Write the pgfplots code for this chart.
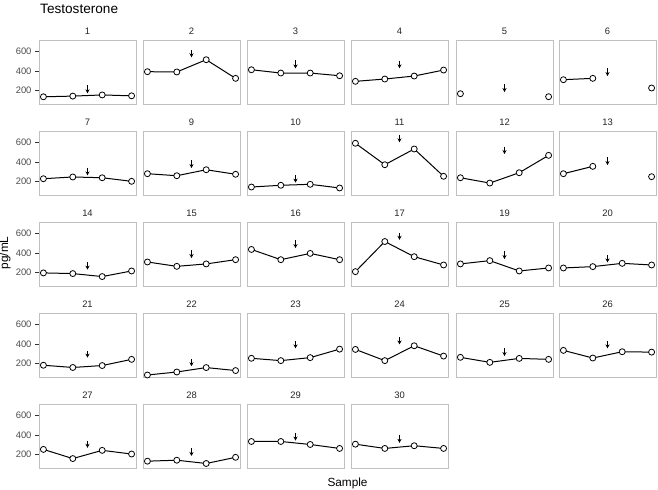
\documentclass[border=0pt]{standalone}
\usepackage{pgfplots}
\pgfplotsset{compat=1.18}
\usetikzlibrary{arrows.meta}
\usepackage{fontspec}
\setmainfont{Liberation Sans}
\definecolor{bordergray}{RGB}{192,192,192}
\definecolor{ticklab}{RGB}{77,77,77}
\definecolor{tickcol}{RGB}{51,51,51}
\pgfplotsset{
 every axis title/.style={at={(0.5,1)},anchor=base,yshift=6.6bp,inner sep=0pt,
    font=\fontsize{9.4bp}{11bp}\selectfont,text=black!85},
 panel/.style={width=97bp,height=64bp,scale only axis,
  xmin=0.85,xmax=4.15,ymin=51,ymax=714,
  axis line style={bordergray,line width=1bp},
  xtick=\empty, ytick=\empty, anchor=north west, clip=false,
  unbounded coords=jump},
 leftpanel/.style={ytick={200,400,600}, yticklabels={200,400,600},
  ytick pos=left, tick align=outside, major tick length=4bp,
  ytick style={tickcol,line width=0.8bp},
  yticklabel style={font=\fontsize{9.4bp}{11bp}\selectfont, text=ticklab},
  /pgf/number format/assume math mode=true},
}
\newcommand{\panel}[7][]{%
 \begin{axis}[panel,at={(#2bp,-#3bp)},title={#4},#1]
 \addplot[black,line width=1bp,mark=*,mark size=3.0bp,
   mark options={fill=white,draw=black,line width=0.8bp}] coordinates {#5};
 \addplot[black,line width=1bp,-{Stealth[length=4bp,width=4.2bp]}] coordinates {(2.5,#6) (2.5,#7)};
 \end{axis}}
\begin{document}
\begin{tikzpicture}
\path[use as bounding box] (0,0) rectangle (658bp,-490bp);
\node[anchor=base west, inner sep=0pt, font=\fontsize{13.6bp}{16bp}\selectfont] at (40bp,-13bp) {Testosterone};
\node[anchor=base, inner sep=0pt, font=\fontsize{11.8bp}{14bp}\selectfont] at (347.5bp,-486bp) {Sample};
\node[anchor=base, rotate=90, inner sep=0pt, font=\fontsize{11.8bp}{14bp}\selectfont] at (8bp,-253bp) {pg/mL};
% row 1
\panel[leftpanel]{39}{40.7}{1}{(1,133)(2,140)(3,152)(4,143)}{255}{169}
\panel{143}{40.7}{2}{(1,393)(2,390)(3,517)(4,324)}{617}{542}
\panel{247}{40.7}{3}{(1,413)(2,379)(3,379)(4,351)}{513}{427}
\panel{351}{40.7}{4}{(1,293)(2,317)(3,348)(4,410)}{507}{428}
\panel{456}{40.7}{5}{(1,165)(2,nan)(3,nan)(4,134)}{265}{182}
\panel{559}{40.7}{6}{(1,310)(2,324)(3,nan)(4,224)}{428}{348}
% row 2
\panel[leftpanel]{39}{131.7}{7}{(1,227)(2,245)(3,237)(4,200)}{341}{262}
\panel{143}{131.7}{9}{(1,279)(2,258)(3,320)(4,273)}{421}{338}
\panel{247}{131.7}{10}{(1,141)(2,159)(3,169)(4,131)}{265}{186}
\panel{351}{131.7}{11}{(1,594)(2,372)(3,535)(4,252)}{680}{604}
\panel{456}{131.7}{12}{(1,237)(2,182)(3,289)(4,469)}{558}{483}
\panel{559}{131.7}{13}{(1,279)(2,355)(3,nan)(4,248)}{449}{369}
% row 3
\panel[leftpanel]{39}{222.7}{14}{(1,194)(2,187)(3,156)(4,214)}{303}{228}
\panel{143}{222.7}{15}{(1,307)(2,262)(3,287)(4,331)}{427}{348}
\panel{247}{222.7}{16}{(1,437)(2,331)(3,396)(4,331)}{537}{451}
\panel{351}{222.7}{17}{(1,207)(2,519)(3,362)(4,276)}{606}{537}
\panel{456}{222.7}{19}{(1,287)(2,321)(3,214)(4,245)}{416}{338}
\panel{559}{222.7}{20}{(1,245)(2,259)(3,293)(4,276)}{375}{303}
% row 4
\panel[leftpanel]{39}{313.7}{21}{(1,180)(2,157)(3,177)(4,241)}{327}{259}
\panel{143}{313.7}{22}{(1,79)(2,110)(3,156)(4,125)}{241}{170}
\panel{247}{313.7}{23}{(1,252)(2,228)(3,259)(4,347)}{430}{355}
\panel{351}{313.7}{24}{(1,344)(2,228)(3,382)(4,275)}{471}{396}
\panel{456}{313.7}{25}{(1,262)(2,210)(3,251)(4,241)}{355}{275}
\panel{559}{313.7}{26}{(1,334)(2,255)(3,320)(4,316)}{430}{355}
% row 5
\panel[leftpanel]{39}{404.7}{27}{(1,251)(2,156)(3,241)(4,203)}{343}{268}
\panel{143}{404.7}{28}{(1,129)(2,139)(3,105)(4,169)}{268}{183}
\panel{247}{404.7}{29}{(1,333)(2,333)(3,302)(4,261)}{421}{343}
\panel{351}{404.7}{30}{(1,305)(2,261)(3,289)(4,261)}{404}{319}
\end{tikzpicture}
\end{document}
